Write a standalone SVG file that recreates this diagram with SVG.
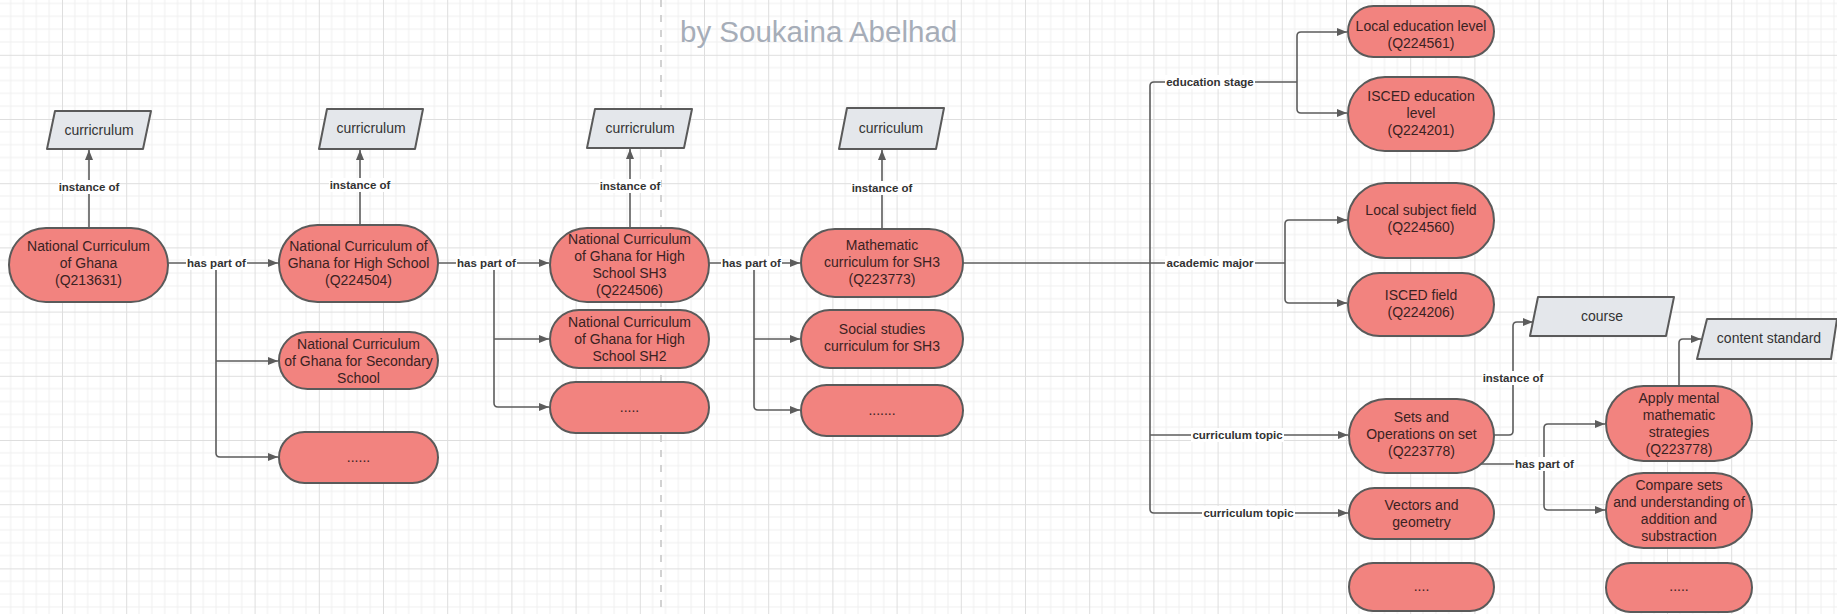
<svg xmlns="http://www.w3.org/2000/svg" width="1837" height="614" viewBox="0 0 1837 614">
<defs>
<pattern id="grid" x="-2.2" y="-9.4" width="64.2" height="64.2" patternUnits="userSpaceOnUse">
<path d="M12.84,0 V64.2 M25.68,0 V64.2 M38.52,0 V64.2 M51.36,0 V64.2 M0,12.84 H64.2 M0,25.68 H64.2 M0,38.52 H64.2 M0,51.36 H64.2" stroke="#efefef" stroke-width="1" fill="none"/>
<path d="M0.5,0 V64.2 M0,0.5 H64.2" stroke="#dedede" stroke-width="1" fill="none"/>
</pattern>
<marker id="arr" viewBox="0 0 10 8" refX="10" refY="4" markerWidth="10" markerHeight="8" markerUnits="userSpaceOnUse" orient="auto">
<path d="M0,0 L10,4 L0,8 z" fill="#5c5c5c"/>
</marker>
<style>
.node rect{fill:#f2837f;stroke:#5a5a5a;stroke-width:2}
.node text{font-family:"Liberation Sans",Arial,sans-serif;font-size:14px;fill:#3a2222;text-anchor:middle}
.cls path{fill:#e4e7eb;stroke:#5a5a5a;stroke-width:2;stroke-linejoin:round}
.cls text{font-family:"Liberation Sans",Arial,sans-serif;font-size:14px;fill:#333;text-anchor:middle}
#connectors path{fill:none;stroke:#5c5c5c;stroke-width:1.6}
.arrow{marker-end:url(#arr)}
.lbl rect{fill:#ffffff}
.lbl text{font-family:"Liberation Sans",Arial,sans-serif;font-size:11.5px;font-weight:bold;fill:#333;text-anchor:middle}
</style>
</defs>
<rect width="1837" height="614" fill="#ffffff"/>
<rect width="1837" height="614" fill="url(#grid)"/>
<line x1="661" y1="0" x2="661" y2="614" stroke="#d2d2d2" stroke-width="2" stroke-dasharray="7 8"/>
<text x="680" y="42" font-family="Liberation Sans, Arial, sans-serif" font-size="29.5" fill="#a6adb8">by Soukaina Abelhad</text>

<g id="connectors">
<path class="arrow" d="M89,228 V150"/>
<path class="arrow" d="M360,225 V150"/>
<path class="arrow" d="M630,228 V149"/>
<path class="arrow" d="M882,229 V150"/>
<path class="arrow" d="M168,263 H278"/>
<path class="arrow" d="M216,263 V453 Q216,457 220,457 H278"/>
<path class="arrow" d="M216,361 H278"/>
<path class="arrow" d="M438,263 H549"/>
<path class="arrow" d="M494,263 V403 Q494,407 498,407 H549"/>
<path class="arrow" d="M494,339 H549"/>
<path class="arrow" d="M709,263 H800"/>
<path class="arrow" d="M754,263 V406 Q754,410 758,410 H800"/>
<path class="arrow" d="M754,339 H800"/>
<path d="M963,263 H1285"/>
<path class="arrow" d="M1285,263 V224 Q1285,220 1289,220 H1347"/>
<path class="arrow" d="M1285,263 V299 Q1285,303 1289,303 H1347"/>
<path d="M1150,263 V86 Q1150,82 1154,82 H1297"/>
<path class="arrow" d="M1297,82 V36 Q1297,32 1301,32 H1347"/>
<path class="arrow" d="M1297,82 V109 Q1297,113 1301,113 H1347"/>
<path class="arrow" d="M1150,263 V509 Q1150,513 1154,513 H1348"/>
<path class="arrow" d="M1150,435 H1348"/>
<path class="arrow" d="M1494,435 H1509 Q1513,435 1513,431 V326 Q1513,322 1517,322 H1533"/>
<path d="M1481,464 H1544"/>
<path class="arrow" d="M1544,464 V428 Q1544,424 1548,424 H1605"/>
<path class="arrow" d="M1544,464 V506 Q1544,510 1548,510 H1605"/>
<path class="arrow" d="M1679,386 V343 Q1679,339 1683,339 H1701"/>
<g class="lbl">
<rect x="58" y="180" width="62" height="14"/><text x="89" y="191">instance of</text>
<rect x="329" y="178" width="62" height="14"/><text x="360" y="189">instance of</text>
<rect x="599" y="179" width="62" height="14"/><text x="630" y="190">instance of</text>
<rect x="851" y="181" width="62" height="14"/><text x="882" y="192">instance of</text>
<rect x="1482" y="371" width="62" height="14"/><text x="1513" y="382">instance of</text>
<rect x="186" y="256" width="61" height="14"/><text x="216.5" y="267">has part of</text>
<rect x="456" y="256" width="61" height="14"/><text x="486.5" y="267">has part of</text>
<rect x="721" y="256" width="61" height="14"/><text x="751.5" y="267">has part of</text>
<rect x="1514" y="457" width="61" height="14"/><text x="1544.5" y="468">has part of</text>
<rect x="1165" y="75" width="90" height="14"/><text x="1210" y="86">education stage</text>
<rect x="1165" y="256" width="90" height="14"/><text x="1210" y="267">academic major</text>
<rect x="1191" y="428" width="93" height="14"/><text x="1237.5" y="439">curriculum topic</text>
<rect x="1202" y="506" width="93" height="14"/><text x="1248.5" y="517">curriculum topic</text>
</g>
</g>

<g id="cls1" class="cls"><path d="M55,111 H151 L143,149 H47 Z"/><text x="99" y="135">curricrulum</text></g>
<g id="cls2" class="cls"><path d="M327,109 H423 L415,149 H319 Z"/><text x="371" y="133">curricrulum</text></g>
<g id="cls3" class="cls"><path d="M595,109 H692 L684,148 H587 Z"/><text x="640" y="133">curricrulum</text></g>
<g id="cls4" class="cls"><path d="M847,108 H944 L936,149 H839 Z"/><text x="891" y="133">curriculum</text></g>
<g id="cls5" class="cls"><path d="M1538,297 H1674 L1666,336 H1530 Z"/><text x="1602" y="321">course</text></g>
<g id="cls6" class="cls"><path d="M1707,319 H1837 L1831,359 H1697 Z"/><text x="1769" y="343">content standard</text></g>

<g id="n1" class="node"><rect x="9" y="228" width="159" height="74" rx="37"/><text x="88.5" y="251">National Curriculum<tspan x="88.5" dy="17">of Ghana</tspan><tspan x="88.5" dy="17">(Q213631)</tspan></text></g>
<g id="n2" class="node"><rect x="279" y="225" width="159" height="77" rx="38.5"/><text x="358.5" y="251">National Curriculum of<tspan x="358.5" dy="17">Ghana for High School</tspan><tspan x="358.5" dy="17">(Q224504)</tspan></text></g>
<g id="n3" class="node"><rect x="279" y="332" width="159" height="57" rx="28.5"/><text x="358.5" y="349">National Curriculum<tspan x="358.5" dy="17">of Ghana for Secondary</tspan><tspan x="358.5" dy="17">School</tspan></text></g>
<g id="n4" class="node"><rect x="279" y="432" width="159" height="51" rx="25.5"/><text x="358.5" y="462">......</text></g>
<g id="n5" class="node"><rect x="550" y="228" width="159" height="74" rx="37"/><text x="629.5" y="244">National Curriculum<tspan x="629.5" dy="17">of Ghana for High</tspan><tspan x="629.5" dy="17">School SH3</tspan><tspan x="629.5" dy="17">(Q224506)</tspan></text></g>
<g id="n6" class="node"><rect x="550" y="310" width="159" height="58" rx="29"/><text x="629.5" y="327">National Curriculum<tspan x="629.5" dy="17">of Ghana for High</tspan><tspan x="629.5" dy="17">School SH2</tspan></text></g>
<g id="n7" class="node"><rect x="550" y="382" width="159" height="51" rx="25.5"/><text x="629.5" y="412">.....</text></g>
<g id="n8" class="node"><rect x="801" y="229" width="162" height="68" rx="34"/><text x="882" y="250">Mathematic<tspan x="882" dy="17">curriculum for SH3</tspan><tspan x="882" dy="17">(Q223773)</tspan></text></g>
<g id="n9" class="node"><rect x="801" y="310" width="162" height="58" rx="29"/><text x="882" y="334">Social studies<tspan x="882" dy="17">curriculum for SH3</tspan></text></g>
<g id="n10" class="node"><rect x="801" y="385" width="162" height="51" rx="25.5"/><text x="882" y="415">.......</text></g>
<g id="n11" class="node"><rect x="1348" y="6" width="146" height="51" rx="25.5"/><text x="1421" y="31">Local education level<tspan x="1421" dy="17">(Q224561)</tspan></text></g>
<g id="n12" class="node"><rect x="1348" y="77" width="146" height="74" rx="37"/><text x="1421" y="101">ISCED education<tspan x="1421" dy="17">level</tspan><tspan x="1421" dy="17">(Q224201)</tspan></text></g>
<g id="n13" class="node"><rect x="1348" y="183" width="146" height="75" rx="37.5"/><text x="1421" y="215">Local subject field<tspan x="1421" dy="17">(Q224560)</tspan></text></g>
<g id="n14" class="node"><rect x="1348" y="273" width="146" height="63" rx="31.5"/><text x="1421" y="300">ISCED field<tspan x="1421" dy="17">(Q224206)</tspan></text></g>
<g id="n15" class="node"><rect x="1349" y="399" width="145" height="74" rx="37"/><text x="1421.5" y="422">Sets and<tspan x="1421.5" dy="17">Operations on set</tspan><tspan x="1421.5" dy="17">(Q223778)</tspan></text></g>
<g id="n16" class="node"><rect x="1349" y="488" width="145" height="51" rx="25.5"/><text x="1421.5" y="510">Vectors and<tspan x="1421.5" dy="17">geometry</tspan></text></g>
<g id="n17" class="node"><rect x="1349" y="563" width="145" height="48" rx="24"/><text x="1421.5" y="591">....</text></g>
<g id="n18" class="node"><rect x="1606" y="386" width="146" height="75" rx="37.5"/><text x="1679" y="403">Apply mental<tspan x="1679" dy="17">mathematic</tspan><tspan x="1679" dy="17">strategies</tspan><tspan x="1679" dy="17">(Q223778)</tspan></text></g>
<g id="n19" class="node"><rect x="1606" y="473" width="146" height="75" rx="37.5"/><text x="1679" y="490">Compare sets<tspan x="1679" dy="17">and understanding of</tspan><tspan x="1679" dy="17">addition and</tspan><tspan x="1679" dy="17">substraction</tspan></text></g>
<g id="n20" class="node"><rect x="1606" y="563" width="146" height="49" rx="24.5"/><text x="1679" y="591">.....</text></g>
</svg>
